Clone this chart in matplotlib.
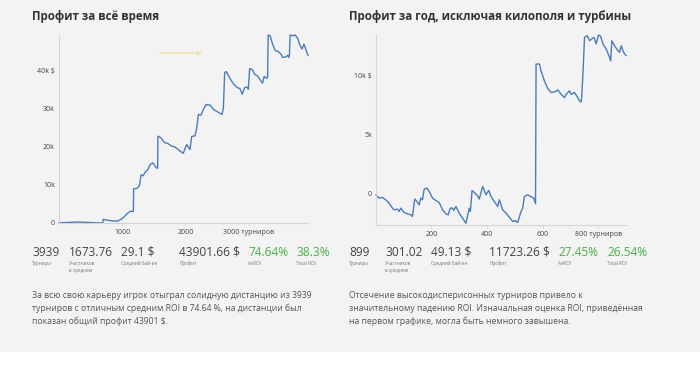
import matplotlib
matplotlib.use("Agg")
import matplotlib.pyplot as plt
from matplotlib.patches import Rectangle

plt.rcParams['font.family'] = ['Open Sans', 'DejaVu Sans']
plt.rcParams['text.parse_math'] = False

# ---------------- data ----------------
left_title = "Профит за всё время"
right_title = "Профит за год, исключая килополя и турбины"

left_x = [0, 150, 300, 450, 600, 690, 701, 760, 850, 925,
          980, 1032, 1085, 1128, 1176, 1181, 1230, 1272, 1299, 1330,
          1360, 1405, 1443, 1485, 1539, 1560, 1565, 1610, 1672, 1720,
          1779, 1830, 1885, 1930, 1965, 2019, 2072, 2099, 2152, 2179,
          2205, 2245, 2285, 2328, 2392, 2445, 2525, 2579, 2600, 2621,
          2648, 2712, 2765, 2819, 2861, 2899, 2936, 2968, 2995, 3016,
          3059, 3096, 3139, 3192, 3219, 3245, 3288, 3300, 3309, 3340,
          3379, 3421, 3460, 3512, 3539, 3592, 3619, 3635, 3645, 3656,
          3700, 3736, 3779, 3805, 3843, 3875, 3912, 3939]
left_y = [0, 100, 200, 100, 0, -50, 900, 700, 500, 450,
          900, 1600, 2500, 3000, 3000, 8900, 9000, 9700, 12600, 12300,
          13200, 13900, 15300, 15700, 14400, 14300, 22700, 22300, 21000, 20800,
          20100, 19900, 19200, 18600, 18200, 20500, 19200, 22600, 22800, 24900,
          28400, 28200, 29700, 31000, 30800, 29700, 28900, 28400, 30000, 39400,
          39600, 37600, 36300, 35400, 35200, 33700, 35400, 35600, 35000, 40400,
          40100, 38900, 38500, 37200, 36600, 38300, 37900, 38000, 49200, 49000,
          46800, 45100, 45000, 44200, 43300, 43500, 43900, 43300, 44000, 49200,
          49000, 49200, 48200, 46800, 45500, 46800, 45100, 43900]

right_x = [1, 4, 12, 24, 36, 48, 60, 66, 78, 84,
           90, 102, 114, 126, 132, 140, 148, 156, 162, 168,
           174, 184, 192, 204, 216, 228, 240, 252, 260, 268,
           276, 280, 288, 300, 312, 324, 336, 340, 346, 354,
           366, 372, 384, 396, 406, 414, 426, 438, 444, 456,
           468, 480, 492, 500, 510, 522, 528, 534, 546, 556,
           568, 574, 576, 588, 594, 606, 618, 630, 642, 654,
           666, 678, 684, 696, 702, 714, 726, 732, 738, 740,
           744, 750, 760, 768, 776, 784, 792, 800, 808, 816,
           828, 840, 844, 848, 858, 870, 876, 882, 888, 894, 899]
right_y = [-100, -170, -370, -310, -510, -800, -1220, -1360, -1310, -1500,
           -1220, -1590, -1700, -1790, -1930, -450, -650, -940, -370, -510,
           400, 480, 200, -370, -570, -740, -1360, -1700, -1790, -1220,
           -1220, -1420, -1080, -1650, -2070, -2500, -1220, -1500, 280, 110,
           -170, -450, 620, -85, 280, -230, -650, -1080, -510, -1360,
           -1650, -1990, -2360, -2270, -2440, -1500, -1220, -230, -85, -230,
           -370, -850, 11000, 11000, 10400, 9570, 8920, 8580, 8630, 8800,
           8430, 8150, 8430, 8720, 8430, 8580, 8150, 7870, 7780, 8290,
           10000, 13260, 13400, 12980, 13120, 13260, 12700, 13460, 13350, 12700,
           12270, 11560, 11270, 12980, 12550, 12130, 11990, 12550, 12130, 11840, 11723]

left_yticks = [0, 10000, 20000, 30000, 40000]
left_yticklabels = ["0", "10k", "20k", "30k", "40k $"]
left_xticks = [1000, 2000, 3000]
left_xticklabels = ["1000", "2000", "3000 турниров"]

right_yticks = [0, 5000, 10000]
right_yticklabels = ["0", "5k", "10k $"]
right_xticks = [200, 400, 600, 800]
right_xticklabels = ["200", "400", "600", "800 турниров"]

left_stat_values = ["3939", "1673.76", "29.1 $", "43901.66 $", "74.64%", "38.3%"]
right_stat_values = ["899", "301.02", "49.13 $", "11723.26 $", "27.45%", "26.54%"]
stat_labels = ["Турниры", "Участников\nв среднем", "Средний бай-ин", "Профит", "AvROI", "Total ROI"]

left_text = ["За всю свою карьеру игрок отыграл солидную дистанцию из 3939",
             "турниров с отличным средним ROI в 74.64 %, на дистанции был",
             "показан общий профит 43901 $."]
right_text = ["Отсечение высокодисперисонных турниров привело к",
              "значительному падению ROI. Изначальная оценка ROI, приведённая",
              "на первом графике, могла быть немного завышена."]

# ---------------- styling ----------------
W, H = 700, 369
BG = '#f2f3f2'
LINE = '#4c7cbb'
SPINE = '#d3d5d5'
DARK = '#333333'
TXT = '#555555'
GREEN = '#47b047'

fig = plt.figure(figsize=(W / 100, H / 100), dpi=100, facecolor=BG)
fig.patches.append(Rectangle((0, 0), 1, 17 / H, transform=fig.transFigure,
                             facecolor='white', edgecolor='none', zorder=0))


def px_axes(x0, y0, x1, y1):
    return fig.add_axes([x0 / W, 1 - y1 / H, (x1 - x0) / W, (y1 - y0) / H])


def ftext(x, y, s, **kw):
    fig.text(x / W, 1 - y / H, s, **kw)


def style(ax, xs, ys, xticks, xlabels, yticks, ylabels, xmin, ymin_pad):
    ax.set_facecolor(BG)
    ax.plot(xs, ys, color=LINE, lw=1.0, solid_joinstyle='round', clip_on=False)
    ax.set_xlim(xmin, max(xs))
    lo, hi = min(ys), max(ys)
    ax.set_ylim(lo - ymin_pad, hi)
    for s in ['top', 'right']:
        ax.spines[s].set_visible(False)
    for s in ['left', 'bottom']:
        ax.spines[s].set_color(SPINE)
        ax.spines[s].set_linewidth(0.8)
    ax.set_xticks(xticks, xlabels)
    ax.set_yticks(yticks, ylabels)
    ax.tick_params(axis='x', length=2.5, width=0.6, color=SPINE, labelsize=5,
                   labelcolor='#444444', pad=2)
    ax.tick_params(axis='y', length=0, labelsize=5, labelcolor='#444444', pad=3)


axL = px_axes(59, 35, 308, 223)
style(axL, left_x, left_y, left_xticks, left_xticklabels,
      left_yticks, left_yticklabels, 0, 0)
axL.annotate('', xy=(0.588, 0.904), xytext=(0.395, 0.904), xycoords='axes fraction',
             arrowprops=dict(arrowstyle='-|>', color='#eee3b2', lw=1.3,
                             mutation_scale=6))

axR = px_axes(376, 35, 626, 225)
style(axR, right_x, right_y, right_xticks, right_xticklabels,
      right_yticks, right_yticklabels, 1, 150)

# titles
ftext(32, 20, left_title, fontsize=8.3, fontweight='bold', color=DARK, va='baseline')
ftext(349, 20, right_title, fontsize=8.3, fontweight='bold', color=DARK, va='baseline')

# stats
left_stat_x = [32, 69, 121, 179, 248, 296]
right_stat_x = [349, 385, 431, 489, 558, 607]
for xs_, vals in ((left_stat_x, left_stat_values), (right_stat_x, right_stat_values)):
    for i, (x, v, lab) in enumerate(zip(xs_, vals, stat_labels)):
        col = GREEN if i >= 4 else '#444444'
        ftext(x, 256, v, fontsize=8.6, color=col, va='baseline')
        for k, part in enumerate(lab.split('\n')):
            ftext(x, 265 + 7 * k, part, fontsize=3.3, color='#777777', va='baseline')

# paragraphs
for x0, lines in ((32, left_text), (349, right_text)):
    for j, ln in enumerate(lines):
        ftext(x0, 295 + j * 13.4, ln, fontsize=6.2, color=TXT, va='center')

fig.savefig('out.png', dpi=100, facecolor=BG)
